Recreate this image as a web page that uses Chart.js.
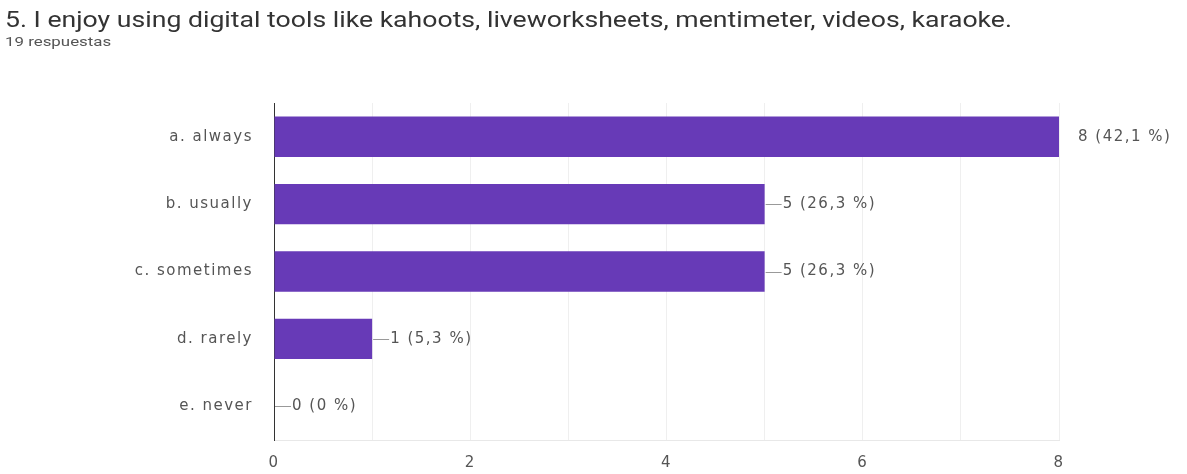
<!DOCTYPE html>
<html>
<head>
<meta charset="utf-8">
<title>5. I enjoy using digital tools</title>
<script src="https://cdn.jsdelivr.net/npm/chart.js"></script>
<style>
  html, body { margin: 0; padding: 0; background: #fff; }
  #wrap { position: relative; width: 1187px; height: 474px; overflow: hidden; }
  #title { position: absolute; left: 5px; top: 7px; font: 22px Roboto, sans-serif; color: #333; white-space: nowrap;
           transform: scaleX(1.21); transform-origin: 0 0; }
  #sub { position: absolute; left: 5px; top: 33px; font: 13.5px Roboto, sans-serif; color: #555; white-space: nowrap;
         transform: scaleX(1.25); transform-origin: 0 0; }
  canvas { position: absolute; left: 0; top: 0; }
</style>
</head>
<body>
<div id="wrap">
  <canvas id="c" width="1187" height="474"></canvas>
  <div id="title">5. I enjoy using digital tools like kahoots, liveworksheets, mentimeter, videos, karaoke.</div>
  <div id="sub">19 respuestas</div>
</div>
<script>
// answers and counts
const categories = ['a. always', 'b. usually', 'c. sometimes', 'd. rarely', 'e. never'];
const counts = [8, 5, 5, 1, 0];
const percents = ['42,1', '26,3', '26,3', '5,3', '0'];
const xTicks = [0, 2, 4, 6, 8];

const PURPLE = '#673ab7';
const FAMILY = '"DejaVu Sans", Verdana, sans-serif';
const TRACK = '1.5px';

// slightly tracked text on the canvas
const spacing = {
  id: 'spacing',
  beforeDraw(chart) { chart.ctx.letterSpacing = TRACK; }
};

// "n (p %)" next to each bar; short leader line unless the bar reaches the end
const valueLabels = {
  id: 'valueLabels',
  afterDatasetsDraw(chart) {
    const ctx = chart.ctx;
    const meta = chart.getDatasetMeta(0);
    const xScale = chart.scales.x;
    ctx.save();
    ctx.letterSpacing = TRACK;
    ctx.font = '15px ' + FAMILY;
    ctx.fillStyle = '#555';
    ctx.textBaseline = 'middle';
    meta.data.forEach((bar, i) => {
      const x = bar.x;
      const y = bar.y;
      const txt = counts[i] + ' (' + percents[i] + ' %)';
      if (counts[i] >= xScale.max) {
        ctx.fillText(txt, x + 19, y);
      } else {
        ctx.strokeStyle = '#999';
        ctx.lineWidth = 1;
        ctx.beginPath();
        ctx.moveTo(x + 1, Math.round(y) + 0.5);
        ctx.lineTo(x + 17, Math.round(y) + 0.5);
        ctx.stroke();
        ctx.fillText(txt, x + 18, y);
      }
    });
    ctx.restore();
  }
};

new Chart(document.getElementById('c'), {
  type: 'bar',
  data: {
    labels: categories,
    datasets: [{
      data: counts,
      backgroundColor: PURPLE,
      borderWidth: 0,
      barPercentage: 0.6,
      categoryPercentage: 1.0
    }]
  },
  options: {
    indexAxis: 'y',
    responsive: false,
    animation: false,
    layout: { padding: { top: 103, right: 128, left: 0, bottom: 0 } },
    plugins: { legend: { display: false }, tooltip: { enabled: false } },
    scales: {
      x: {
        min: 0,
        max: 8,
        afterFit(scale) { scale.height = 34; },
        afterBuildTicks(scale) {
          scale.ticks = [0, 1, 2, 3, 4, 5, 6, 7, 8].map(v => ({ value: v }));
        },
        grid: {
          drawTicks: false,
          color: ctx => (ctx.tick && ctx.tick.value === 0) ? 'rgba(0,0,0,0)' : '#efefef'
        },
        border: { display: true, color: '#e8e8e8' },
        ticks: {
          padding: 14,
          autoSkip: false,
          maxRotation: 0,
          color: '#555',
          font: { family: FAMILY, size: 15 },
          callback: v => xTicks.includes(v) ? String(v) : ''
        }
      },
      y: {
        afterFit(scale) { scale.width = 274; },
        grid: { display: false, drawTicks: false },
        border: { display: true, color: '#333', width: 1 },
        ticks: {
          padding: 21,
          color: '#555',
          font: { family: FAMILY, size: 15 }
        }
      }
    }
  },
  plugins: [spacing, valueLabels]
});
</script>
</body>
</html>
